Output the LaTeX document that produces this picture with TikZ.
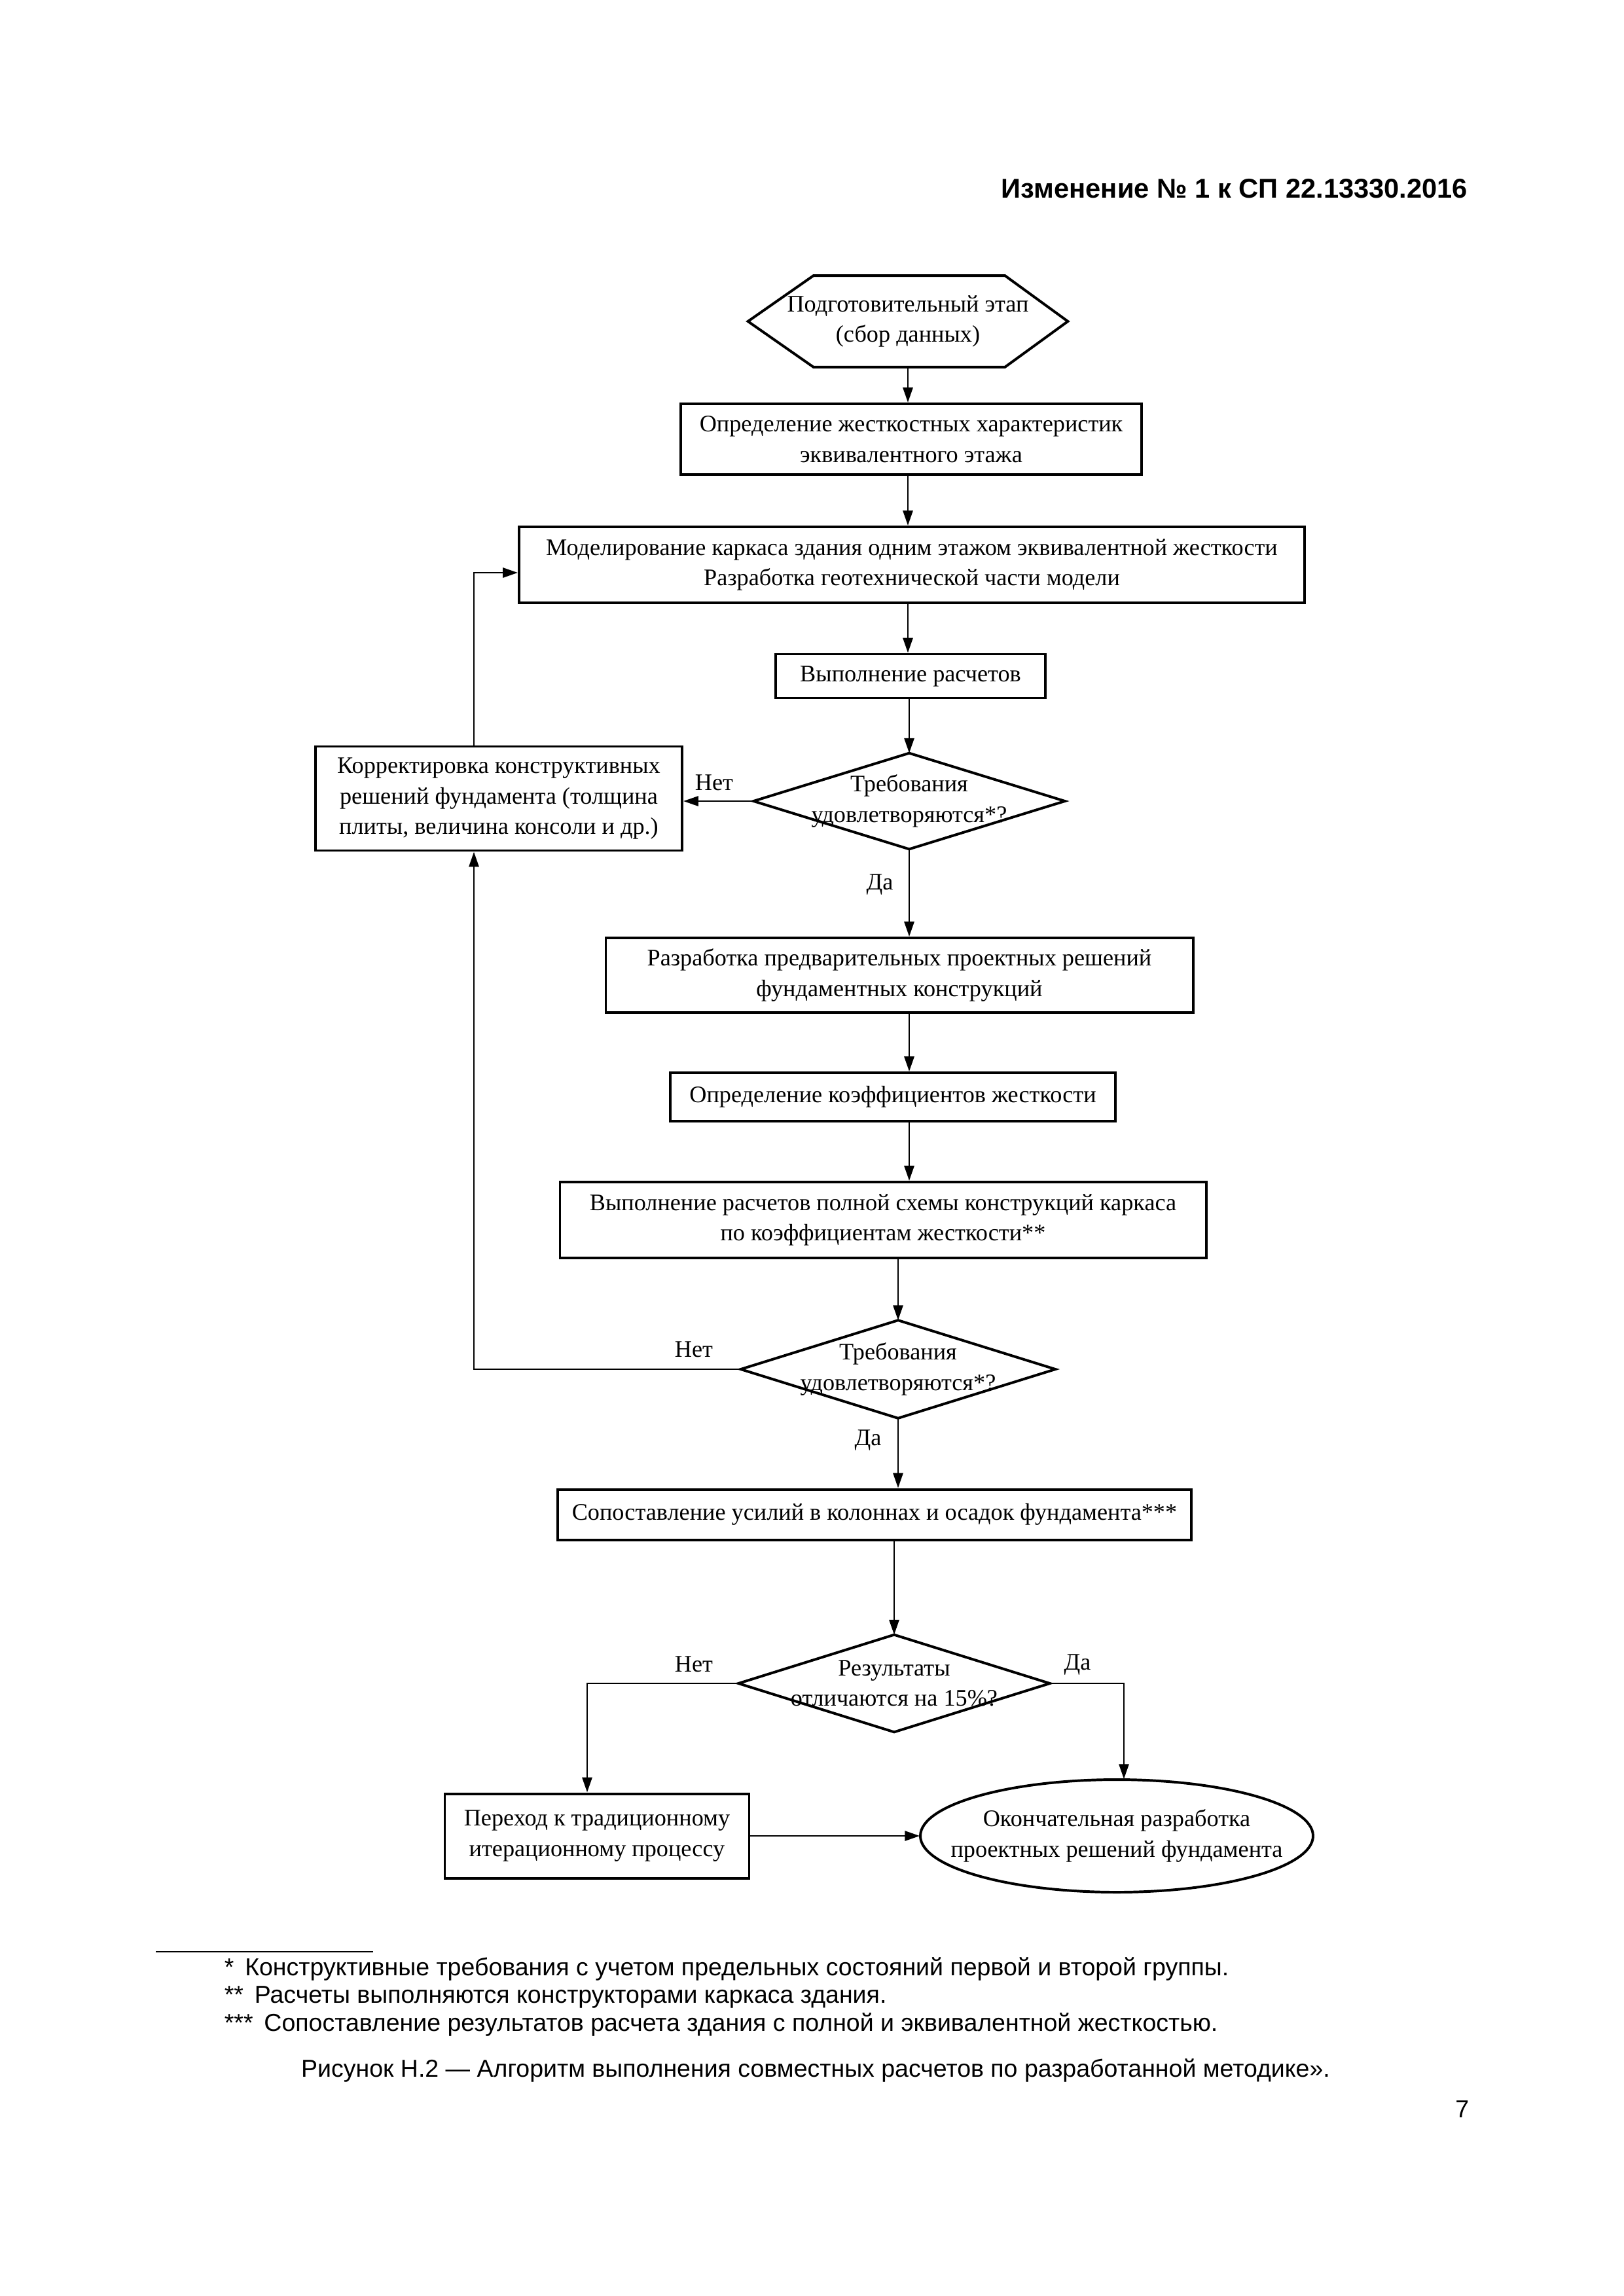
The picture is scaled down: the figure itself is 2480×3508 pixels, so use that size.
\documentclass[tikz,border=0pt]{standalone}
\usepackage{fontspec}
\setmainfont{Liberation Serif}
\newfontfamily\arialf{Liberation Sans}
\usetikzlibrary{arrows.meta,calc}
\tikzset{
  sz/.style 2 args={minimum width=#1*0.24003pt, minimum height=#2*0.24003pt},
  txt/.style={font=\fontsize{8.7}{11.2}\selectfont, align=center, inner sep=0pt},
  boxn/.style={txt, draw, line width=0.95pt, rectangle},
  plain/.style={txt, rectangle},
  outline/.style={line width=0.95pt, line join=miter},
  arr/.style={line width=0.7pt, -{Triangle[length=5.5pt,width=3.6pt]}},
  lbl/.style={font=\fontsize{8.7}{11.2}\selectfont, inner sep=0pt},
  foot/.style={font=\arialf\fontsize{9}{10}\selectfont, inner sep=0pt, anchor=base west}
}
\begin{document}
\begin{tikzpicture}[x=0.24003pt,y=-0.24003pt]
\useasboundingbox (0,0) rectangle (2480,3508);

% header
\node[font=\arialf\bfseries\fontsize{10}{12}\selectfont, inner sep=0pt, anchor=base east] (hdr) at (2243,302) {Изменение № 1 к СП 22.13330.2016};

% start hexagon
\node[plain, sz={487}{138}] (hex) at (1387,491) {Подготовительный этап\\(сбор данных)};
\draw[outline] (hex.west) -- ($(hex.north west)+(100,0)$) -- ($(hex.north east)+(-96,0)$) -- (hex.east) -- ($(hex.south east)+(-96,0)$) -- ($(hex.south west)+(100,0)$) -- cycle;

\node[boxn, sz={704}{108}] (b2) at (1392,671) {Определение жесткостных характеристик\\эквивалентного этажа};
\node[boxn, sz={1200}{116}] (b3) at (1393,863) {Моделирование каркаса здания одним этажом эквивалентной жесткости\\Разработка геотехнической части модели};
\node[boxn, sz={412}{67}] (b4) at (1391,1033) {Выполнение расчетов};

\node[plain, sz={474}{145}] (d1) at (1389,1224) {Требования\\удовлетворяются*?};
\draw[outline] (d1.north) -- (d1.east) -- (d1.south) -- (d1.west) -- cycle;

\node[boxn, sz={560}{159}] (korr) at (762,1220) {Корректировка конструктивных\\решений фундамента (толщина\\плиты, величина консоли и др.)};
\coordinate (lx) at (724,0);

\node[boxn, sz={897}{114}] (b5) at (1374,1490) {Разработка предварительных проектных решений\\фундаментных конструкций};
\node[boxn, sz={680}{74}] (b6) at (1364,1676) {Определение коэффициентов жесткости};
\node[boxn, sz={987}{116}] (b7) at (1349,1864) {Выполнение расчетов полной схемы конструкций каркаса\\по коэффициентам жесткости**};

\node[plain, sz={479}{148}] (d2) at (1372,2092) {Требования\\удовлетворяются*?};
\draw[outline] (d2.north) -- (d2.east) -- (d2.south) -- (d2.west) -- cycle;

\node[boxn, sz={968}{77}] (b8) at (1336,2314) {Сопоставление усилий в колоннах и осадок фундамента***};

\node[plain, sz={474}{147}] (d3) at (1366,2572) {Результаты\\отличаются на 15\%?};
\draw[outline] (d3.north) -- (d3.east) -- (d3.south) -- (d3.west) -- cycle;

\node[boxn, sz={465}{129}] (b9) at (912,2805) {Переход к традиционному\\итерационному процессу};
\node[plain, sz={600}{172}] (ell) at (1706,2805) {Окончательная разработка\\проектных решений фундамента};
\draw[outline] (ell.center) ellipse [x radius=300, y radius=86];

% connectors
\draw[arr] (hex.south) -- (hex.south |- b2.north);
\draw[arr] (b2.south -| hex.south) -- (b3.north -| hex.south);
\draw[arr] (b3.south -| hex.south) -- (b4.north -| hex.south);
\draw[arr] (b4.south -| d1.north) -- (d1.north);
\draw[arr] (d1.west) -- (korr.east |- d1.west);
\draw[arr] (korr.north -| lx) |- ($(b3.west)+(0,12)$);
\draw[arr] (d1.south) -- (d1.south |- b5.north);
\draw[arr] (b5.south -| d1.south) -- (b6.north -| d1.south);
\draw[arr] (b6.south -| d1.south) -- (b7.north -| d1.south);
\draw[arr] (b7.south -| d2.north) -- (d2.north);
\draw[arr] (d2.west) -| (korr.south -| lx);
\draw[arr] (d2.south) -- (d2.south |- b8.north);
\draw[arr] (b8.south -| d3.north) -- (d3.north);
\draw[arr] (d3.west) -| ($(b9.north)+(-15,0)$);
\draw[arr] (d3.east) -| ($(ell.north)+(11,0)$);
\draw[arr] (b9.east) -- (ell.west);

% labels
\node[lbl] (n1) at (1091,1196) {Нет};
\node[lbl] (y1) at (1344,1351) {Да};
\node[lbl] (n2) at (1060,2062) {Нет};
\node[lbl] (y2) at (1326,2200) {Да};
\node[lbl] (n3) at (1060,2543) {Нет};
\node[lbl] (y3) at (1646,2543) {Да};

% footnotes
\coordinate (r1) at (238,2982);
\coordinate (r2) at (570,2982);
\draw[line width=0.7pt] (r1) -- (r2);
\node[foot] (f1) at (342,3018) {*\hspace{0.45em}Конструктивные требования с учетом предельных состояний первой и второй группы.};
\node[foot] (f2) at (342,3060) {**\hspace{0.45em}Расчеты выполняются конструкторами каркаса здания.};
\node[foot] (f3) at (342,3103) {***\hspace{0.45em}Сопоставление результатов расчета здания с полной и эквивалентной жесткостью.};
\node[font=\arialf\fontsize{9}{10}\selectfont, inner sep=0pt, anchor=base] (cap) at (1246,3173) {Рисунок Н.2 — Алгоритм выполнения совместных расчетов по разработанной методике».};
\node[font=\arialf\fontsize{9}{10}\selectfont, inner sep=0pt, anchor=base east] (pg) at (2245,3235) {7};
\end{tikzpicture}
\end{document}
